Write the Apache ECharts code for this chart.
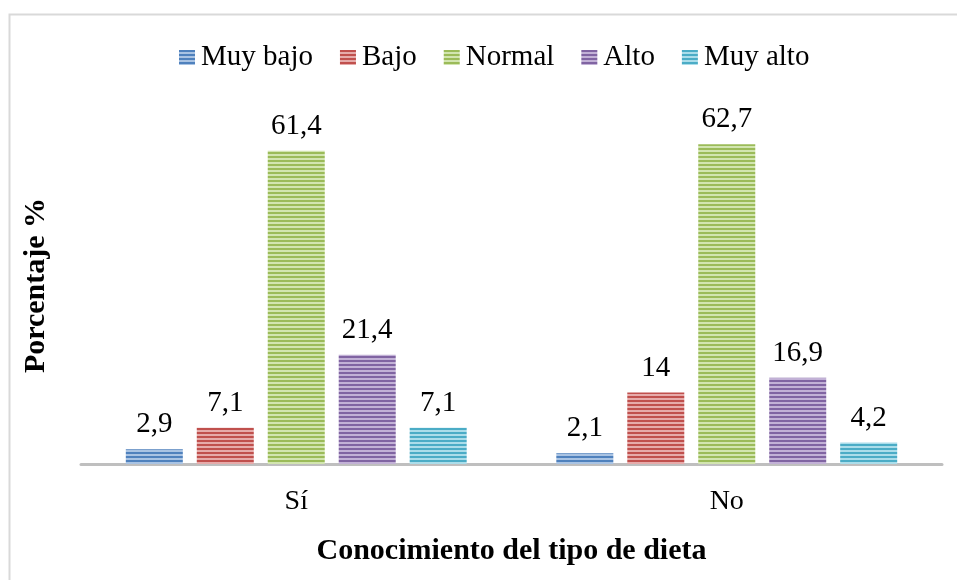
<!DOCTYPE html>
<html>
<head>
<meta charset="utf-8">
<script src="https://cdn.jsdelivr.net/npm/echarts@6/dist/echarts.min.js"></script>
<style>
  html, body { margin: 0; padding: 0; background: #fff; }
  #chart { width: 957px; height: 580px; }
</style>
</head>
<body>
<div id="chart"></div>
<script>
// categorias y valores (%)
const categories = ['Sí', 'No']
const seriesNames = ['Muy bajo', 'Bajo', 'Normal', 'Alto', 'Muy alto']
const muyBajo = [2.9, 2.1]
const bajo = [7.1, 14]
const normal = [61.4, 62.7]
const alto = [21.4, 16.9]
const muyAlto = [7.1, 4.2]

const baseColors = ['#4F81BD', '#C0504D', '#9BBB59', '#8064A2', '#4BACC6']
const lightColors = ['#A9C3E3', '#E6ABAA', '#D2E5B0', '#C2B1D6', '#ABDDEA']

function stripes(dark, light) {
  const c = document.createElement('canvas')
  c.width = 4
  c.height = 4
  const ctx = c.getContext('2d')
  ctx.fillStyle = light
  ctx.fillRect(0, 0, 4, 4)
  ctx.fillStyle = dark
  ctx.fillRect(0, 0, 4, 2)
  return { image: c, repeat: 'repeat' }
}

const font = "'Liberation Serif', 'Times New Roman', serif"
const dataSets = [muyBajo, bajo, normal, alto, muyAlto]

const chart = echarts.init(document.getElementById('chart'))
chart.setOption({
  backgroundColor: '#fff',
  animation: false,
  graphic: [{
    type: 'rect',
    shape: { x: 9.5, y: 14.5, width: 960, height: 580 },
    style: { fill: 'none', stroke: '#D9D9D9', lineWidth: 2 },
    silent: true
  }],
  legend: {
    top: 38,
    left: 174,
    icon: 'rect',
    itemWidth: 16,
    itemHeight: 15,
    itemGap: 27,
    textStyle: { fontFamily: font, fontSize: 29, color: '#000', padding: [0, 0, 0, 1] },
    data: seriesNames
  },
  grid: { left: 81, right: 15, top: 107, bottom: 116 },
  xAxis: {
    type: 'category',
    data: categories,
    axisLine: { lineStyle: { color: '#BFBFBF', width: 3 } },
    axisTick: { show: false },
    axisLabel: { fontFamily: font, fontSize: 28, color: '#000', margin: 24 },
    name: 'Conocimiento del tipo de dieta',
    nameLocation: 'middle',
    nameGap: 72,
    nameTextStyle: { fontFamily: font, fontSize: 30, fontWeight: 'bold', color: '#000' }
  },
  yAxis: {
    type: 'value',
    min: 0,
    max: 70,
    show: true,
    axisLine: { show: false },
    axisTick: { show: false },
    axisLabel: { show: false },
    splitLine: { show: false },
    name: 'Porcentaje %',
    nameLocation: 'middle',
    nameGap: 30,
    nameRotate: 90,
    nameTextStyle: { fontFamily: font, fontSize: 30, fontWeight: 'bold', color: '#000' }
  },
  series: seriesNames.map((name, i) => ({
    name: name,
    type: 'bar',
    data: dataSets[i],
    barWidth: 57,
    barGap: '24.5%',
    itemStyle: { color: stripes(baseColors[i], lightColors[i]) },
    label: {
      show: true,
      position: 'top',
      distance: 10,
      fontFamily: font,
      fontSize: 29,
      color: '#000',
      formatter: p => String(p.value).replace('.', ',')
    }
  }))
})
</script>
</body>
</html>
